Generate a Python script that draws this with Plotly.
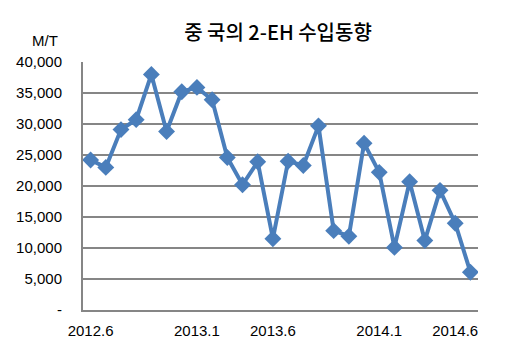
import plotly.graph_objects as go

months = ["2012.6", "2012.7", "2012.8", "2012.9", "2012.10", "2012.11", "2012.12",
          "2013.1", "2013.2", "2013.3", "2013.4", "2013.5", "2013.6", "2013.7",
          "2013.8", "2013.9", "2013.10", "2013.11", "2013.12", "2014.1", "2014.2",
          "2014.3", "2014.4", "2014.5", "2014.6", "2014.7"]
imports = [24200, 23000, 29100, 30700, 38000, 28800, 35200, 35900, 33900, 24600,
           20200, 23900, 11500, 24000, 23300, 29700, 12800, 11900, 26900, 22200,
           10100, 20700, 11200, 19300, 14000, 6100]
x_tick_labels = ["2012.6", "2013.1", "2013.6", "2014.1", "2014.6"]
y_tick_values = [0, 5000, 10000, 15000, 20000, 25000, 30000, 35000, 40000]
y_tick_labels = ["-", "5,000", "10,000", "15,000", "20,000", "25,000", "30,000", "35,000", "40,000"]

xs = list(range(len(months)))
x_tick_pos = [months.index(m) for m in x_tick_labels]

fig = go.Figure()
fig.add_trace(go.Scatter(
    x=xs, y=imports, mode="lines+markers",
    line=dict(color="#4a7ebb", width=4),
    marker=dict(symbol="diamond", size=13, color="#4a7ebb"),
    hoverinfo="skip", showlegend=False,
))

fig.update_layout(
    width=528, height=361,
    margin=dict(l=83, r=50, t=62, b=51),
    paper_bgcolor="white", plot_bgcolor="white",
    font=dict(family="Liberation Sans, Arial, sans-serif", size=15, color="black"),
    title=dict(text="중 국의 2-EH 수입동향", x=278/528, xanchor="center", y=1-33/361, yanchor="middle",
               font=dict(family="Noto Sans CJK KR", size=20, color="black", weight=500)),
    xaxis=dict(range=[-0.5, len(months) - 0.5], tickvals=x_tick_pos, ticktext=x_tick_labels,
               showgrid=False, zeroline=False, showline=True, linecolor="#868686", linewidth=2,
               ticks="", ticklabelstandoff=6, tickfont=dict(size=15)),
    yaxis=dict(range=[0, 40000], tickvals=y_tick_values, ticktext=y_tick_labels,
               showgrid=True, gridcolor="#868686", gridwidth=2, zeroline=False,
               showline=True, linecolor="#868686", linewidth=2, ticks="",
               ticklabelstandoff=16, tickfont=dict(size=15)),
    annotations=[dict(text="M/T", xref="paper", yref="paper", x=-38/395, y=1 + 22/248,
                      xanchor="center", yanchor="middle", showarrow=False,
                      font=dict(size=15, color="black"))],
)

fig.write_html("out.html", config={"displayModeBar": False},
               post_script="document.body.style.margin='0';document.body.style.padding='0';")
